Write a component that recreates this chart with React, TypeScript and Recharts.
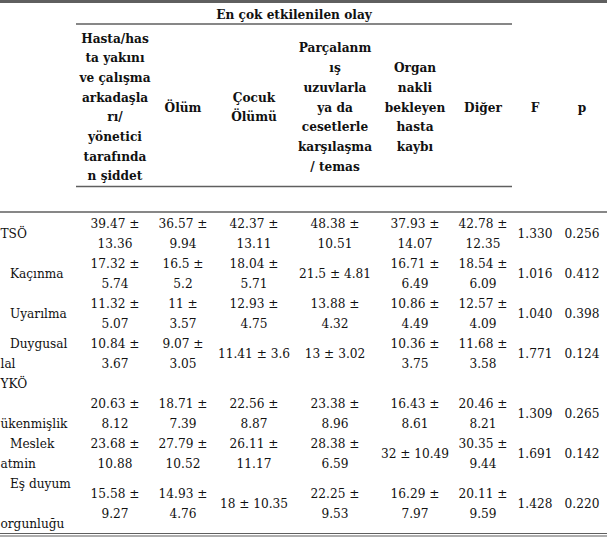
import { ScatterChart, Scatter, XAxis, YAxis, ReferenceLine } from "recharts";

// header of the grouped columns
const GROUP_TITLE = "En çok etkilenilen olay";
const GROUP_HEADS = [
  ["Hasta/has", "ta yakını", "ve çalışma", "arkadaşla", "rı/", "yönetici", "tarafında", "n şiddet"],
  ["Ölüm"],
  ["Çocuk", "Ölümü"],
  ["Parçalanm", "ış", "uzuvlarla", "ya da", "cesetlerle", "karşılaşma", "/ temas"],
  ["Organ", "nakli", "bekleyen", "hasta", "kaybı"],
  ["Diğer"],
];
const STAT_HEADS = ["F", "p"];

// row labels, as far as they are visible in the source (its first column is cut on the left)
const ROW_LABELS = [
  ["TSÖ"],
  ["Kaçınma"],
  ["Uyarılma"],
  ["Duygusal", "lal"],
  ["YKÖ"],
  ["", "ükenmişlik"],
  ["Meslek", "atmin"],
  ["Eş duyum", "", "orgunluğu"],
];
const ROW_SUB = [false, true, true, true, false, true, true, true];

// mean / sd per row, one entry per group column (null = no values)
const MEANS: (number[] | null)[] = [
  [39.47, 36.57, 42.37, 48.38, 37.93, 42.78],
  [17.32, 16.5, 18.04, 21.5, 16.71, 18.54],
  [11.32, 11, 12.93, 13.88, 10.86, 12.57],
  [10.84, 9.07, 11.41, 13, 10.36, 11.68],
  null,
  [20.63, 18.71, 22.56, 23.38, 16.43, 20.46],
  [23.68, 27.79, 26.11, 28.38, 32, 30.35],
  [15.58, 14.93, 18, 22.25, 16.29, 20.11],
];
const SDS: (number[] | null)[] = [
  [13.36, 9.94, 13.11, 10.51, 14.07, 12.35],
  [5.74, 5.2, 5.71, 4.81, 6.49, 6.09],
  [5.07, 3.57, 4.75, 4.32, 4.49, 4.09],
  [3.67, 3.05, 3.6, 3.02, 3.75, 3.58],
  null,
  [8.12, 7.39, 8.87, 8.96, 8.61, 8.21],
  [10.88, 10.52, 11.17, 6.59, 10.49, 9.44],
  [9.27, 4.76, 10.35, 9.53, 7.97, 9.59],
];
const F_VALUES = [1.33, 1.016, 1.04, 1.771, null, 1.309, 1.691, 1.428];
const P_VALUES = [0.256, 0.412, 0.398, 0.124, null, 0.265, 0.142, 0.22];

// layout
const W = 607;
const H = 539;
const FONT = '"DejaVu Serif Condensed", "DejaVu Serif", serif';
const FS = 13.5;
const COL_X = [115, 183, 254, 335, 415, 483, 535, 582];
const COL_FIT = [70, 55, 70, 70, 70, 70];
const ROW_SPAN = [2, 2, 2, 2, 1, 2, 2, 3];
const BODY_TOP = 222.5;
const BODY_PITCH = 20;
const HEAD_MID = 106.5;
const HEAD_PITCH = 19.7;
const LABEL_X = 0.5;
const LABEL_INDENT = 10;
const LINE_COLOR = "#5f5f5f";

type Item = { x: number; y: number; text: string; bold?: boolean; anchor?: string };

// rough Times-like advance widths, only used to decide where a cell wraps
const charW = (ch: string) => {
  if (ch >= "0" && ch <= "9") return 0.5;
  if (ch === "±") return 0.549;
  return 0.25;
};
const textW = (s: string) => s.split("").reduce((a, c) => a + charW(c) * 15, 0);

const items: Item[] = [];

// headers
items.push({ x: (76 + 512) / 2, y: 14, text: GROUP_TITLE, bold: true });
GROUP_HEADS.forEach((lines, c) => {
  const y0 = HEAD_MID - ((lines.length - 1) * HEAD_PITCH) / 2;
  lines.forEach((t, i) => items.push({ x: COL_X[c], y: y0 + i * HEAD_PITCH, text: t, bold: true }));
});
STAT_HEADS.forEach((t, i) => items.push({ x: COL_X[6 + i], y: HEAD_MID, text: t, bold: true }));

// body
let line = 0;
ROW_LABELS.forEach((labels, r) => {
  const span = ROW_SPAN[r];
  const mid = BODY_TOP + (line + (span - 1) / 2) * BODY_PITCH;
  const lineY = (k: number) => BODY_TOP + (line + k) * BODY_PITCH;

  labels.forEach((t, i) => {
    if (!t) return;
    const y = labels.length === 1 ? mid : lineY(i);
    const x = ROW_SUB[r] && i === 0 ? LABEL_INDENT : LABEL_X;
    items.push({ x, y, text: t, anchor: "start" });
  });

  const means = MEANS[r];
  const sds = SDS[r];
  if (means && sds) {
    means.forEach((m, c) => {
      const one = `${m} ± ${sds[c]}`;
      if (textW(one) <= COL_FIT[c]) {
        items.push({ x: COL_X[c], y: mid, text: one });
      } else {
        items.push({ x: COL_X[c], y: mid - BODY_PITCH / 2, text: `${m} ±` });
        items.push({ x: COL_X[c], y: mid + BODY_PITCH / 2, text: `${sds[c]}` });
      }
    });
  }
  const f = F_VALUES[r];
  const p = P_VALUES[r];
  if (f != null) items.push({ x: COL_X[6], y: mid, text: f.toFixed(3) });
  if (p != null) items.push({ x: COL_X[7], y: mid, text: p.toFixed(3) });

  line += span;
});

const CellText = (props: any) => {
  const { cx, cy, payload } = props;
  return (
    <text
      x={cx}
      y={cy}
      textAnchor={payload.anchor || "middle"}
      dominantBaseline="central"
      style={{ fontFamily: FONT, fontSize: FS, fontWeight: payload.bold ? 700 : 400, fontStretch: "condensed" }}
      fill="#111"
    >
      {payload.text}
    </text>
  );
};

export default function App() {
  return (
    <div style={{ position: "absolute", left: 0, top: 0, width: W, height: H, background: "#fff", fontFamily: FONT }}>
      <ScatterChart width={W} height={H} margin={{ top: 0, right: 0, bottom: 0, left: 0 }}>
        <XAxis type="number" dataKey="x" domain={[0, W]} hide allowDataOverflow />
        <YAxis type="number" dataKey="y" domain={[0, H]} reversed hide allowDataOverflow />
        {/* rules */}
        <ReferenceLine y={1.5} stroke={LINE_COLOR} strokeWidth={3} />
        <ReferenceLine segment={[{ x: 76, y: 24 }, { x: 512, y: 24 }]} stroke={LINE_COLOR} strokeWidth={1.5} />
        <ReferenceLine segment={[{ x: 76, y: 186.5 }, { x: 512, y: 186.5 }]} stroke={LINE_COLOR} strokeWidth={1.5} />
        <ReferenceLine y={212} stroke={LINE_COLOR} strokeWidth={1.5} />
        <ReferenceLine y={533.5} stroke={LINE_COLOR} strokeWidth={1.2} />
        <ReferenceLine y={536} stroke={LINE_COLOR} strokeWidth={1.2} />
        <Scatter data={items} shape={CellText} isAnimationActive={false} />
      </ScatterChart>
    </div>
  );
}
